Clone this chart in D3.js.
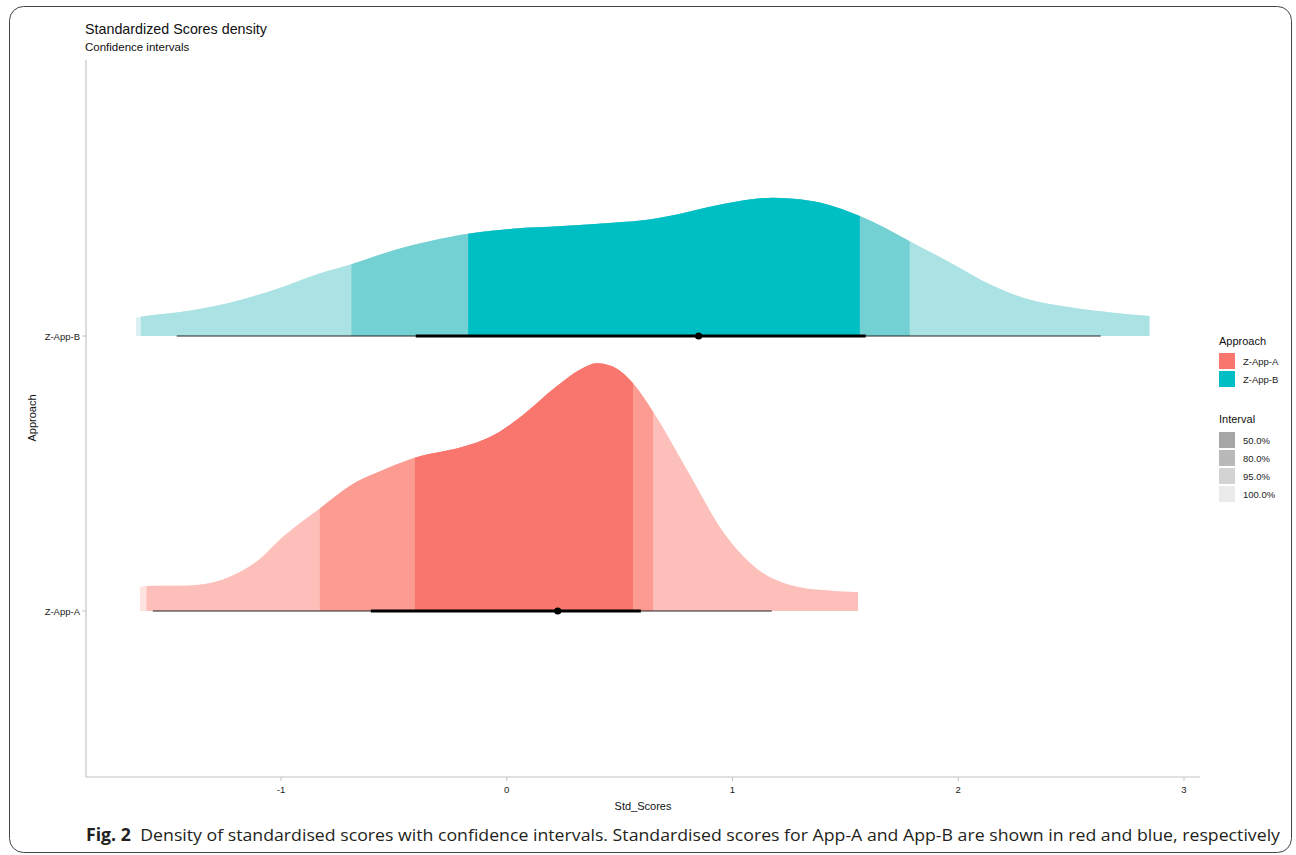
<!DOCTYPE html>
<html>
<head>
<meta charset="utf-8">
<script src="https://cdn.jsdelivr.net/npm/d3@7"></script>
<style>
  body { margin: 0; background: #fff; }
  svg text { font-family: "Liberation Sans", Arial, sans-serif; }
</style>
</head>
<body>
<svg id="chart" width="1296" height="855"></svg>
<script>
// Categories and legend labels
const approaches = ['Z-App-A', 'Z-App-B'];
const intervalLabels = ['50.0%', '80.0%', '95.0%', '100.0%'];
const xTicks = [-1, 0, 1, 2, 3];

// Density profiles: [Std_Scores, height in category units]
const densityA = [
  [-1.626, 0.088], [-1.596, 0.091], [-1.478, 0.092], [-1.400, 0.093], [-1.345, 0.097],
  [-1.290, 0.106], [-1.227, 0.125], [-1.160, 0.152], [-1.109, 0.179], [-0.991, 0.270],
  [-0.828, 0.373], [-0.665, 0.470], [-0.547, 0.513], [-0.407, 0.557], [-0.194, 0.597],
  [-0.105, 0.622], [-0.031, 0.652], [0.072, 0.713], [0.220, 0.816], [0.330, 0.880],
  [0.397, 0.901], [0.460, 0.892], [0.515, 0.865], [0.559, 0.828], [0.648, 0.725],
  [0.811, 0.495], [0.958, 0.288], [1.106, 0.155], [1.254, 0.095], [1.401, 0.076],
  [1.556, 0.068]
];
const densityB = [
  [-1.643, 0.067], [-1.621, 0.070], [-1.448, 0.087], [-1.227, 0.121], [-1.006, 0.175],
  [-0.843, 0.224], [-0.688, 0.261], [-0.489, 0.315], [-0.341, 0.345], [-0.171, 0.372],
  [0.027, 0.390], [0.248, 0.400], [0.470, 0.412], [0.633, 0.424], [0.737, 0.439],
  [0.885, 0.467], [1.032, 0.491], [1.180, 0.503], [1.298, 0.497], [1.416, 0.479],
  [1.564, 0.436], [1.785, 0.345], [1.992, 0.255], [2.140, 0.188], [2.287, 0.139],
  [2.509, 0.103], [2.686, 0.085], [2.848, 0.073]
];

// Slab interval limits per level (100, 95, 80, 50)
const slabA = [[-1.626, 1.556], [-1.596, 1.556], [-0.828, 0.648], [-0.407, 0.559]];
const slabB = [[-1.643, 2.848], [-1.621, 2.848], [-0.688, 1.785], [-0.171, 1.564]];

// Point + interval summaries: median, thick [lo, hi], thin [lo, hi]
const pointA = { median: 0.226, thick: [-0.602, 0.594], thin: [-1.568, 1.174] };
const pointB = { median: 0.850, thick: [-0.403, 1.590], thin: [-1.462, 2.631] };

const colorsA = ['#fee4e1', '#fdbfb9', '#fb9b92', '#f8766d'];
const colorsB = ['#daf2f3', '#abe2e3', '#73d1d3', '#00bfc4'];
const legendGrays = ['#a6a6a6', '#b9b9b9', '#d3d3d3', '#ebebeb'];

const svg = d3.select('#chart');

const panel = { left: 86, right: 1200, top: 60, bottom: 777 };

const x = d3.scaleLinear().domain([-1, 3]).range([281, 1184]);
const y = d3.scaleLinear().domain([1, 2]).range([611, 336]);

// Frame around the figure
svg.append('rect')
  .attr('x', 9.5).attr('y', 6.5)
  .attr('width', 1282).attr('height', 846)
  .attr('rx', 14)
  .attr('fill', 'none')
  .attr('stroke', '#444')
  .attr('stroke-width', 1);

// Titles
svg.append('text').attr('x', 85).attr('y', 34)
  .attr('font-size', 14.3).attr('fill', '#111')
  .text('Standardized Scores density');
svg.append('text').attr('x', 85).attr('y', 51)
  .attr('font-size', 11.5).attr('fill', '#111')
  .text('Confidence intervals');

// Slabs
const defs = svg.append('defs');
const groups = [
  { name: 'Z-App-B', idx: 2, dens: densityB, slab: slabB, colors: colorsB, pt: pointB },
  { name: 'Z-App-A', idx: 1, dens: densityA, slab: slabA, colors: colorsA, pt: pointA }
];

groups.forEach(g => {
  const area = d3.area()
    .x(d => x(d[0]))
    .y0(y(g.idx))
    .y1(d => y(g.idx + d[1]))
    .curve(d3.curveMonotoneX);

  g.slab.forEach((lim, i) => {
    const id = 'clip-' + g.name + '-' + i;
    defs.append('clipPath').attr('id', id)
      .append('rect')
      .attr('x', x(lim[0]))
      .attr('y', panel.top)
      .attr('width', x(lim[1]) - x(lim[0]))
      .attr('height', y(g.idx) - panel.top);
    svg.append('path')
      .datum(g.dens)
      .attr('d', area)
      .attr('fill', g.colors[i])
      .attr('clip-path', 'url(#' + id + ')');
  });
});

// Point intervals
groups.forEach(g => {
  const yy = y(g.idx);
  svg.append('line')
    .attr('x1', x(g.pt.thin[0])).attr('x2', x(g.pt.thin[1]))
    .attr('y1', yy).attr('y2', yy)
    .attr('stroke', '#222').attr('stroke-width', 1.2);
  svg.append('line')
    .attr('x1', x(g.pt.thick[0])).attr('x2', x(g.pt.thick[1]))
    .attr('y1', yy).attr('y2', yy)
    .attr('stroke', '#000').attr('stroke-width', 3);
  svg.append('circle')
    .attr('cx', x(g.pt.median)).attr('cy', yy)
    .attr('r', 3.6).attr('fill', '#000');
});

// Axes
const xAxis = svg.append('g').attr('transform', `translate(0,${panel.bottom})`);
xAxis.append('line')
  .attr('x1', panel.left).attr('x2', panel.right)
  .attr('stroke', '#c4c4c4').attr('stroke-width', 1.2);
xAxis.selectAll('.tick').data(xTicks).join('g')
  .attr('transform', d => `translate(${x(d)},0)`)
  .call(t => t.append('line').attr('y2', 4).attr('stroke', '#c4c4c4'))
  .call(t => t.append('text').attr('y', 16).attr('text-anchor', 'middle')
    .attr('font-size', 9.5).attr('fill', '#222').text(d => d));

svg.append('text').attr('x', 643).attr('y', 810)
  .attr('text-anchor', 'middle').attr('font-size', 11).attr('fill', '#111')
  .text('Std_Scores');

svg.append('line')
  .attr('x1', panel.left).attr('x2', panel.left)
  .attr('y1', panel.top).attr('y2', panel.bottom)
  .attr('stroke', '#c4c4c4').attr('stroke-width', 1.2);
approaches.forEach((a, i) => {
  svg.append('line')
    .attr('x1', panel.left - 4).attr('x2', panel.left)
    .attr('y1', y(i + 1)).attr('y2', y(i + 1))
    .attr('stroke', '#c4c4c4');
  svg.append('text')
    .attr('x', panel.left - 6).attr('y', y(i + 1) + 3.5)
    .attr('text-anchor', 'end').attr('font-size', 9.5).attr('fill', '#222')
    .text(a);
});
svg.append('text')
  .attr('transform', 'translate(36,418) rotate(-90)')
  .attr('text-anchor', 'middle').attr('font-size', 11).attr('fill', '#111')
  .text('Approach');

// Legends
const lg = svg.append('g').attr('transform', 'translate(1219,0)');
lg.append('text').attr('x', 0).attr('y', 345).attr('font-size', 11).attr('fill', '#111').text('Approach');
approaches.forEach((a, i) => {
  lg.append('rect').attr('x', 0).attr('y', 353 + i * 18).attr('width', 16).attr('height', 16)
    .attr('fill', i === 0 ? colorsA[3] : colorsB[3]);
  lg.append('text').attr('x', 24).attr('y', 365 + i * 18).attr('font-size', 9.5).attr('fill', '#222').text(a);
});
lg.append('text').attr('x', 0).attr('y', 423).attr('font-size', 11).attr('fill', '#111').text('Interval');
intervalLabels.forEach((l, i) => {
  lg.append('rect').attr('x', 0).attr('y', 432 + i * 18).attr('width', 16).attr('height', 16)
    .attr('fill', legendGrays[i]);
  lg.append('text').attr('x', 24).attr('y', 444 + i * 18).attr('font-size', 9.5).attr('fill', '#222').text(l);
});

// Caption
const cap = svg.append('text').attr('x', 86).attr('y', 841)
  .attr('font-size', 17).attr('fill', '#231f20')
  .style('font-family', '"Open Sans", sans-serif');
cap.append('tspan').attr('font-weight', 'bold').text('Fig. 2');
cap.append('tspan').attr('dx', 9)
  .text('Density of standardised scores with confidence intervals. Standardised scores for App-A and App-B are shown in red and blue, respectively');
cap.attr('textLength', 1194).attr('lengthAdjust', 'spacingAndGlyphs');
</script>
</body>
</html>
